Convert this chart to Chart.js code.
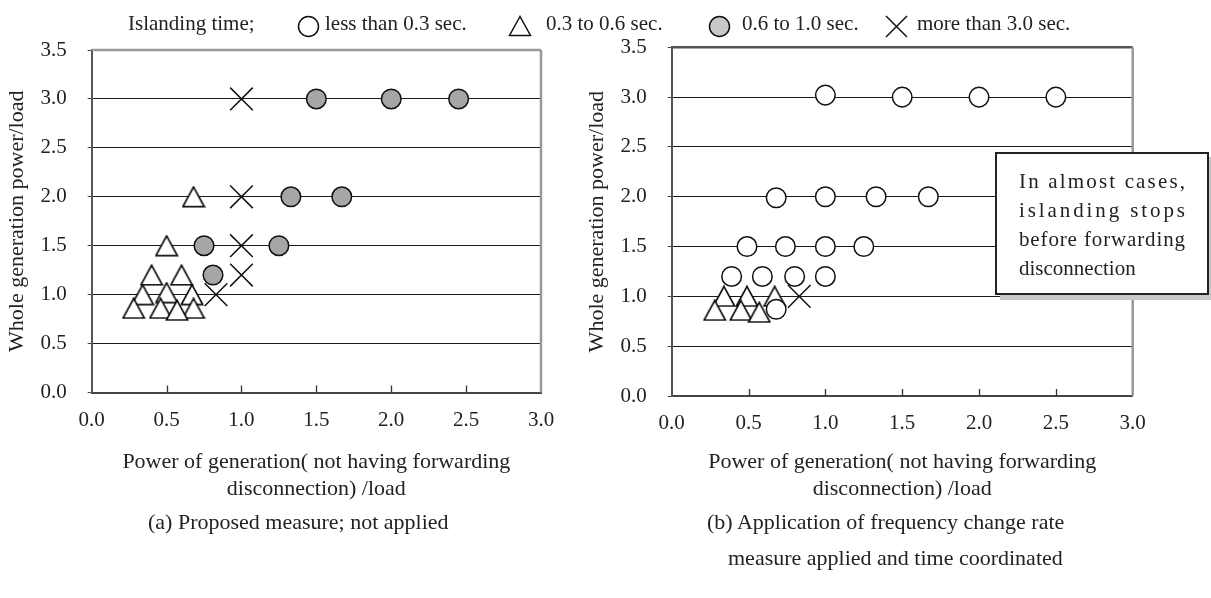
<!DOCTYPE html>
<html>
<head>
<meta charset="utf-8">
<script src="https://cdn.jsdelivr.net/npm/chart.js@4.4.1/dist/chart.umd.min.js"></script>
<style>
  body { margin:0; background:#fff; width:1211px; height:598px; position:relative; overflow:hidden;
         font-family:'Liberation Serif','Times New Roman',serif; color:#222; }
  canvas { position:absolute; top:0; }
  #chartA { left:0; }
  #chartB { left:580px; }
  .t { position:absolute; white-space:nowrap; }
  .lg { font-size:21px; line-height:24px; top:11px; }
  .sym { position:absolute; top:15px; }
  .cap { font-size:22px; line-height:26px; }
  #note { position:absolute; left:995px; top:152px; width:166px; padding:13px 22px 10px;
          border:2px solid #222; background:#fff; box-shadow:5px 5px 0 #c8c8c8;
          font-size:21px; line-height:29px; }
  #note div { white-space:nowrap; }
</style>
</head>
<body>
<canvas id="chartA" width="600" height="520"></canvas>
<canvas id="chartB" width="631" height="520"></canvas>

<!-- legend -->
<span class="t lg" style="left:128px">Islanding time;</span>
<svg class="sym" style="left:297px" width="23" height="23"><circle cx="11.5" cy="11.5" r="10" fill="#fff" stroke="#111" stroke-width="1.5"/></svg>
<span class="t lg" style="left:325px">less than 0.3 sec.</span>
<svg class="sym" style="left:508px" width="24" height="22"><polygon points="12,1.5 1.5,20.5 22.5,20.5" fill="#fff" stroke="#111" stroke-width="1.5"/></svg>
<span class="t lg" style="left:546px">0.3 to 0.6 sec.</span>
<svg class="sym" style="left:707.5px" width="23" height="23"><circle cx="11.5" cy="11.5" r="10" fill="#c8c8c8" stroke="#111" stroke-width="1.5"/></svg>
<span class="t lg" style="left:742px">0.6 to 1.0 sec.</span>
<svg class="sym" style="left:884.5px" width="23" height="23"><path d="M1 1 L22 22 M22 1 L1 22" stroke="#111" stroke-width="1.5"/></svg>
<span class="t lg" style="left:917px">more than 3.0 sec.</span>

<div id="note">
  <div class="j">In almost cases,</div>
  <div class="j">islanding stops</div>
  <div class="j">before forwarding</div>
  <div>disconnection</div>
</div>

<span class="t cap" style="left:148px; top:509px">(a) Proposed measure; not applied</span>
<span class="t cap" style="left:707px; top:509px">(b) Application of frequency change rate</span>
<span class="t cap" style="left:728px; top:545px">measure applied and time coordinated</span>

<script>
// (a) Proposed measure not applied
const aTriangle = [[0.68, 2.0], [0.5, 1.5], [0.4, 1.2], [0.6, 1.2], [0.34, 1.0], [0.5, 1.02], [0.67, 1.0],
                   [0.28, 0.86], [0.46, 0.86], [0.68, 0.86], [0.57, 0.84]];
const aGray = [[1.5, 3.0], [2.0, 3.0], [2.45, 3.0], [1.33, 2.0], [1.67, 2.0], [0.75, 1.5], [1.25, 1.5], [0.81, 1.2]];
const aCross = [[1.0, 3.0], [1.0, 2.0], [1.0, 1.5], [1.0, 1.2], [0.83, 1.0]];

// (b) frequency change rate measure applied
const bCircle = [[1.0, 3.02], [1.5, 3.0], [2.0, 3.0], [2.5, 3.0], [0.68, 1.99], [1.0, 2.0], [1.33, 2.0], [1.67, 2.0],
                 [0.49, 1.5], [0.74, 1.5], [1.0, 1.5], [1.25, 1.5], [0.39, 1.2], [0.59, 1.2], [0.8, 1.2], [1.0, 1.2],
                 [0.68, 0.87]];
const bTriangle = [[0.34, 1.0], [0.49, 1.0], [0.67, 1.0], [0.28, 0.86], [0.45, 0.86], [0.57, 0.84]];
const bCross = [[0.83, 1.0]];

const xTitle = ['Power of generation( not having forwarding', 'disconnection) /load'];
const yTitle = 'Whole generation power/load';

const serif = "'Liberation Serif', 'Times New Roman', serif";
const ink = '#111';
const textInk = '#222';

// triangle marker centred on its box, like the original
const tri = document.createElement('canvas');
tri.width = 24; tri.height = 22;
(function () {
    const c = tri.getContext('2d');
    c.beginPath();
    c.moveTo(12, 1.2); c.lineTo(1.3, 20.8); c.lineTo(22.7, 20.8); c.closePath();
    c.fillStyle = '#fff'; c.fill();
    c.strokeStyle = '#000'; c.lineWidth = 1.6; c.stroke();
})();

const pts = arr => arr.map(p => ({ x: p[0], y: p[1] }));

const frame = {
    id: 'frame',
    beforeDatasetsDraw(chart, args, opts) {
        const { ctx, chartArea: a } = chart;
        const x = chart.scales.x;
        ctx.save();
        ctx.strokeStyle = '#333';
        ctx.lineWidth = 1.3;
        x.ticks.forEach(t => {
            if (t.value <= 0 || t.value >= 3) return;
            const px = Math.round(x.getPixelForValue(t.value)) + 0.5;
            ctx.beginPath(); ctx.moveTo(px, a.bottom); ctx.lineTo(px, a.bottom - 7); ctx.stroke();
        });
        ctx.lineWidth = 2.5;
        ctx.strokeStyle = opts.top;
        ctx.beginPath(); ctx.moveTo(a.left, a.top); ctx.lineTo(a.right, a.top); ctx.stroke();
        ctx.strokeStyle = '#999';
        ctx.beginPath(); ctx.moveTo(a.right, a.top); ctx.lineTo(a.right, a.bottom); ctx.stroke();
        ctx.restore();
    }
};

function makeChart(id, datasets, pad, xh, topColor) {
    return new Chart(document.getElementById(id), {
        type: 'scatter',
        data: { datasets },
        options: {
            responsive: false,
            animation: false,
            layout: { padding: pad },
            plugins: { legend: { display: false }, tooltip: { enabled: false }, frame: { top: topColor } },
            scales: {
                x: {
                    min: 0, max: 3,
                    ticks: { stepSize: 0.5, padding: 15, color: textInk, font: { family: serif, size: 21 },
                             callback: v => v.toFixed(1) },
                    grid: { drawOnChartArea: false, drawTicks: false },
                    border: { color: '#444', width: 2 },
                    title: { display: true, text: xTitle, color: textInk, font: { family: serif, size: 22 },
                             padding: { top: 0, bottom: 18 } },
                    afterFit(s) { s.height = xh; }
                },
                y: {
                    min: 0, max: 3.5,
                    ticks: { stepSize: 0.5, padding: 21, color: textInk, font: { family: serif, size: 21 },
                             callback: v => v.toFixed(1) },
                    grid: {
                        tickLength: 4, tickColor: '#444', lineWidth: 1,
                        color: c => (c.tick.value === 0 || c.tick.value === 3.5) ? 'rgba(0,0,0,0)' : '#1a1a1a'
                    },
                    border: { color: '#555', width: 2 },
                    title: { display: true, text: yTitle, color: textInk, font: { family: serif, size: 22 },
                             padding: { top: 4, bottom: 4 } },
                    afterFit(s) { s.width = 91.7; }
                }
            }
        },
        plugins: [frame]
    });
}

const circleSet = (data, fill) => ({ data: pts(data), pointStyle: 'circle', pointRadius: 9.8,
    backgroundColor: fill, borderColor: ink, borderWidth: 1.5 });
const triSet = data => ({ data: pts(data), pointStyle: tri, pointRadius: 10 });
const crossSet = data => ({ data: pts(data), pointStyle: 'crossRot', pointRadius: 16,
    borderColor: ink, borderWidth: 1.5 });

makeChart('chartA', [circleSet(aGray, '#a6a6a6'), crossSet(aCross), triSet(aTriangle)],
    { top: 50, right: 59, left: 0, bottom: 0 }, 127.5, '#999');
makeChart('chartB', [circleSet(bCircle, '#fff'), crossSet(bCross), triSet(bTriangle)],
    { top: 47.3, right: 78.3, left: 0, bottom: 0 }, 124, '#555');

// spread the letters of the boxed note so each line fills the box
document.querySelectorAll('#note .j').forEach(d => {
    d.style.display = 'inline-block';
    const w = d.getBoundingClientRect().width;
    const n = d.textContent.length;
    d.style.letterSpacing = ((166 - w) / (n - 1)) + 'px';
    d.style.display = 'block';
});
</script>
</body>
</html>
